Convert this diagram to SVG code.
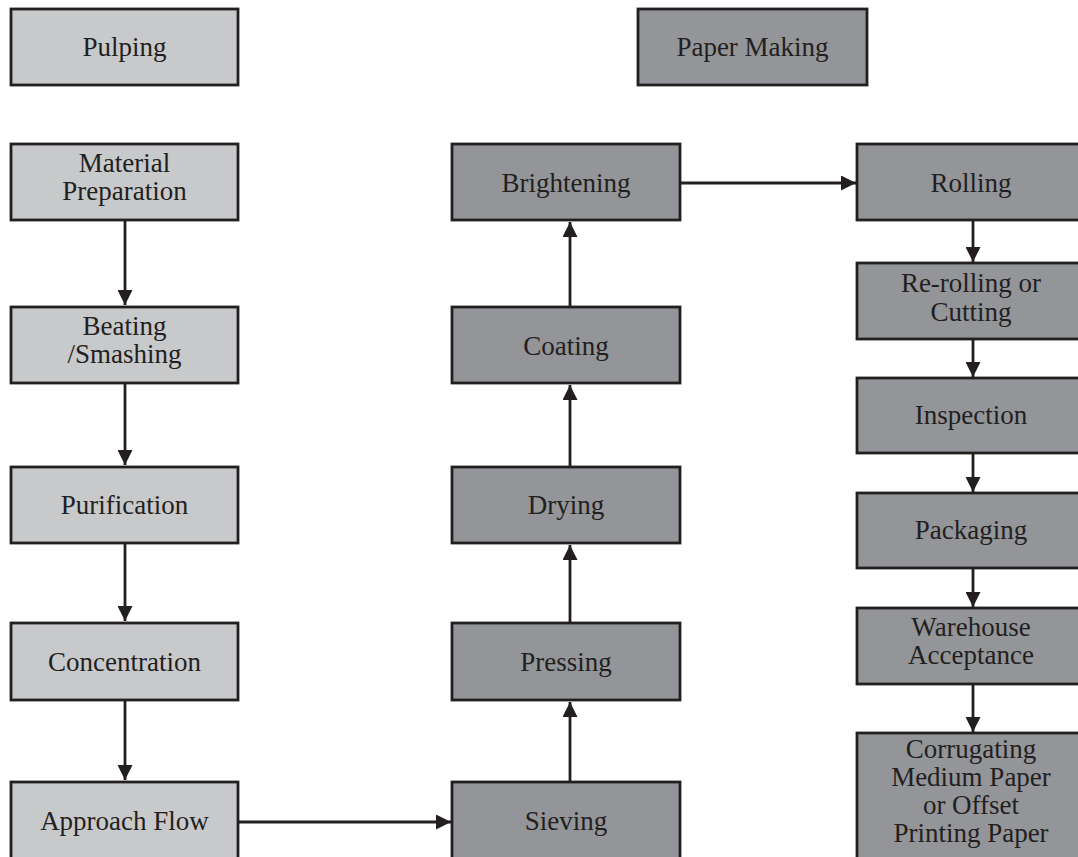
<svg xmlns="http://www.w3.org/2000/svg" width="1078" height="857" viewBox="0 0 1078 857">
<style>
.a{fill:#c8c9cb;stroke:#231f20;stroke-width:2.8}
.b{fill:#939598;stroke:#231f20;stroke-width:2.8}
.c line{stroke:#231f20;stroke-width:2.8}
</style>
<defs>
<marker id="ah" viewBox="0 0 10 10" refX="10" refY="5" markerWidth="15" markerHeight="15" markerUnits="userSpaceOnUse" orient="auto">
<path d="M0,0 L10,5 L0,10 Z" fill="#231f20"/>
</marker>
</defs>
<rect width="1078" height="857" fill="#fff"/>
<g font-family="'Liberation Serif', serif" font-size="27" fill="#231f20" text-anchor="middle">
<g id="pulping"><rect class="a" x="11" y="9" width="227" height="76"/><text x="124.5" y="56">Pulping</text></g>
<g id="papermaking"><rect class="b" x="638" y="9" width="229" height="76"/><text x="752.5" y="56">Paper Making</text></g>
<g id="material"><rect class="a" x="11" y="144" width="227" height="76"/><text x="124.5" y="172">Material</text><text x="124.5" y="200">Preparation</text></g>
<g id="beating"><rect class="a" x="11" y="307" width="227" height="76"/><text x="124.5" y="335">Beating</text><text x="124.5" y="363">/Smashing</text></g>
<g id="purification"><rect class="a" x="11" y="467" width="227" height="76"/><text x="124.5" y="514">Purification</text></g>
<g id="concentration"><rect class="a" x="11" y="623" width="227" height="77"/><text x="124.5" y="671">Concentration</text></g>
<g id="approach"><rect class="a" x="11" y="782" width="227" height="90"/><text x="124.5" y="830">Approach Flow</text></g>
<g id="brightening"><rect class="b" x="452" y="144" width="228" height="76"/><text x="566" y="192">Brightening</text></g>
<g id="coating"><rect class="b" x="452" y="307" width="228" height="76"/><text x="566" y="355">Coating</text></g>
<g id="drying"><rect class="b" x="452" y="467" width="228" height="76"/><text x="566" y="514">Drying</text></g>
<g id="pressing"><rect class="b" x="452" y="623" width="228" height="77"/><text x="566" y="671">Pressing</text></g>
<g id="sieving"><rect class="b" x="452" y="782" width="228" height="90"/><text x="566" y="830">Sieving</text></g>
<g id="rolling"><rect class="b" x="857" y="144" width="228" height="76"/><text x="971" y="192">Rolling</text></g>
<g id="rerolling"><rect class="b" x="857" y="263" width="228" height="76"/><text x="971" y="292">Re-rolling or</text><text x="971" y="321">Cutting</text></g>
<g id="inspection"><rect class="b" x="857" y="378" width="228" height="75"/><text x="971" y="424">Inspection</text></g>
<g id="packaging"><rect class="b" x="857" y="493" width="228" height="75"/><text x="971" y="539">Packaging</text></g>
<g id="warehouse"><rect class="b" x="857" y="608" width="228" height="76"/><text x="971" y="636">Warehouse</text><text x="971" y="664">Acceptance</text></g>
<g id="corrugating"><rect class="b" x="857" y="733" width="228" height="140"/><text x="971" y="758">Corrugating</text><text x="971" y="786">Medium Paper</text><text x="971" y="814">or Offset</text><text x="971" y="842">Printing Paper</text></g>
</g>
<g class="c" id="connectors">
<line x1="125" y1="220" x2="125" y2="305" marker-end="url(#ah)"/>
<line x1="125" y1="383" x2="125" y2="465" marker-end="url(#ah)"/>
<line x1="125" y1="543" x2="125" y2="621" marker-end="url(#ah)"/>
<line x1="125" y1="700" x2="125" y2="780" marker-end="url(#ah)"/>
<line x1="238" y1="822" x2="451" y2="822" marker-end="url(#ah)"/>
<line x1="570" y1="782" x2="570" y2="702" marker-end="url(#ah)"/>
<line x1="570" y1="623" x2="570" y2="545" marker-end="url(#ah)"/>
<line x1="570" y1="467" x2="570" y2="385" marker-end="url(#ah)"/>
<line x1="570" y1="307" x2="570" y2="222" marker-end="url(#ah)"/>
<line x1="680" y1="183" x2="856" y2="183" marker-end="url(#ah)"/>
<line x1="973" y1="220" x2="973" y2="262" marker-end="url(#ah)"/>
<line x1="973" y1="339" x2="973" y2="377" marker-end="url(#ah)"/>
<line x1="973" y1="453" x2="973" y2="492" marker-end="url(#ah)"/>
<line x1="973" y1="568" x2="973" y2="607" marker-end="url(#ah)"/>
<line x1="973" y1="684" x2="973" y2="732" marker-end="url(#ah)"/>
</g>
</svg>
